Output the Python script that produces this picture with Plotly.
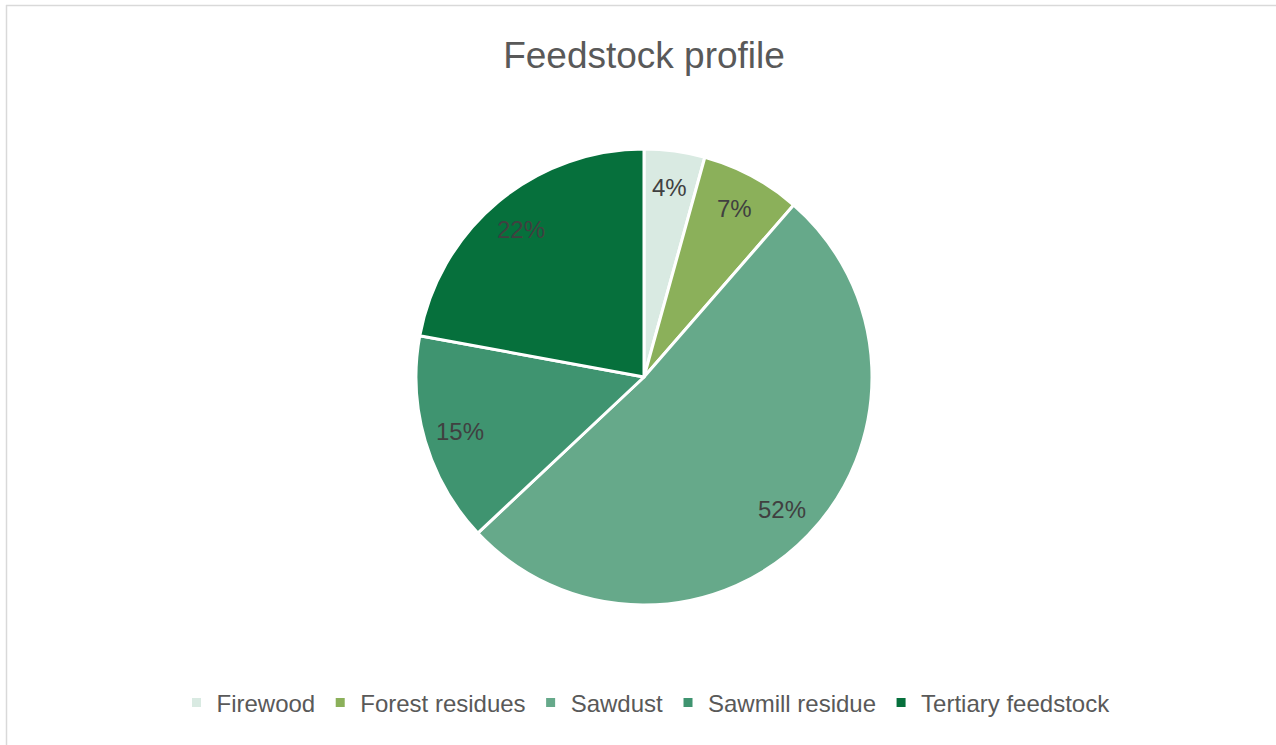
import math
import plotly.graph_objects as go

categories = ["Firewood", "Forest residues", "Sawdust", "Sawmill residue", "Tertiary feedstock"]
values = [4.3, 7.1, 51.6, 14.9, 22.1]
colors = ["#D9EAE2", "#8BB05A", "#66A98A", "#3F9470", "#06703C"]

W, H = 1276, 745
cx, cy, R = 644, 377, 228  # pie centre / radius in px

fig = go.Figure(go.Pie(
    labels=categories, values=values, sort=False, direction="clockwise", rotation=0,
    marker=dict(colors=colors, line=dict(color="white", width=3)),
    textinfo="none", hoverinfo="label+percent",
    domain=dict(x=[(cx - R) / W, (cx + R) / W], y=[1 - (cy + R) / H, 1 - (cy - R) / H]),
))

# data labels placed along each slice bisector at ~0.84 R
total = sum(values)
cum = 0
annotations = []
for v in values:
    mid = (cum + v / 2) / total * 2 * math.pi
    cum += v
    px = cx + 0.84 * R * math.sin(mid)
    py = cy - 0.84 * R * math.cos(mid)
    annotations.append(dict(x=px / W, y=1 - py / H, xref="paper", yref="paper",
                            xanchor="center", yanchor="middle",
                            text=f"{round(v / total * 100)}%", showarrow=False,
                            font=dict(family="Liberation Sans, Arial", size=24, color="#404040")))

fig.update_layout(
    width=W, height=H, margin=dict(l=0, r=0, t=0, b=0),
    paper_bgcolor="white", plot_bgcolor="white",
    title=dict(text="Feedstock profile", x=644 / W, xanchor="center", y=1 - 55 / H, yanchor="middle",
               font=dict(family="Liberation Sans, Arial", size=37, color="#595959")),
    legend=dict(orientation="h", x=646 / W, xanchor="center", y=1 - 703 / H, yanchor="middle",
                font=dict(family="Liberation Sans, Arial", size=24, color="#595959"),
                itemclick=False, traceorder="normal"),
    annotations=annotations,
    shapes=[
        dict(type="line", xref="paper", yref="paper", x0=6.5 / W, x1=6.5 / W, y0=0, y1=1 - 5 / H,
             line=dict(color="#D9D9D9", width=1.5)),
        dict(type="line", xref="paper", yref="paper", x0=6 / W, x1=1, y0=1 - 5.5 / H, y1=1 - 5.5 / H,
             line=dict(color="#D9D9D9", width=1.5)),
    ],
)

fig.write_html("out.html", config={"displayModeBar": False},
               post_script="document.body.style.margin='0';document.body.style.overflow='hidden';")
